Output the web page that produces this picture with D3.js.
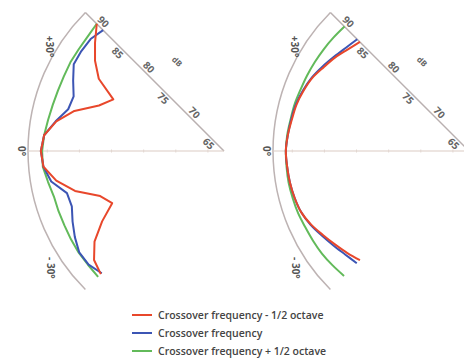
<!DOCTYPE html>
<html><head><meta charset="utf-8">
<script src="https://cdn.jsdelivr.net/npm/d3@7"></script>
<style>body{margin:0;background:#fff}svg{display:block}</style>
</head><body>
<script>
// ---- data ----
const angles = [45,40,35,30,25,20,15,10,5,0,-5,-10,-15,-20,-25,-30,-35,-40,-45];
const leftRed   = [90.5,88.7,87.0,85.0,81.5,83.2,86.6,89.0,90.6,91.0,90.7,89.0,86.5,83.0,81.7,84.4,87.1,88.9,89.6];
const leftBlue  = [89.1,89.6,89.6,89.5,88.4,87.4,87.6,89.1,90.6,91.0,90.7,89.8,87.8,87.7,88.5,89.3,90.0,90.0,89.4];
const leftGreen = [90.5,90.2,90.1,90.1,90.0,90.0,90.1,90.3,90.6,90.8,90.8,90.3,89.9,89.9,89.9,90.0,90.1,90.1,90.2];
const rightRed   = [86.5,87.1,87.9,88.6,89.4,89.9,90.3,90.5,90.8,91.0,90.9,90.8,90.6,90.3,89.6,88.7,87.9,87.2,86.5];
const rightBlue  = [87.1,87.5,88.1,88.8,89.5,90.0,90.4,90.6,90.8,91.0,90.9,90.8,90.6,90.3,89.7,88.9,88.2,87.6,87.2];
const rightGreen = [89.9,90.0,90.1,90.2,90.3,90.4,90.6,90.7,90.9,91.0,91.0,91.0,90.9,90.8,90.6,90.5,90.4,90.2,90.0];
const dbTicks = [90,85,80,75,70,65];
const angleLabels = ["+30°","0°","- 30°"];
const angleLabelAngles = [31,0,-34];
const seriesNames = ["Crossover frequency - 1/2 octave","Crossover frequency","Crossover frequency + 1/2 octave"];
const seriesColors = ["#e8472b","#3c55b4","#62ba5a"];

// ---- layout ----
const W = 464, H = 362;
const svg = d3.select("body").append("svg").attr("width", W).attr("height", H);
svg.append("rect").attr("width", W).attr("height", H).attr("fill", "#fff");
const R = 196;
const r = d3.scaleLinear().domain([62.5, 93]).range([0, R]);
const rad = d => d * Math.PI / 180;
const FONT = "Open Sans, DejaVu Sans, sans-serif";

function panel(cx, cy, series, curve) {
  const g = svg.append("g").attr("transform", `translate(${cx},${cy})`);
  const pt = (deg, rr) => [-rr * Math.cos(rad(deg)), -rr * Math.sin(rad(deg))];
  const p = d3.path();
  p.arc(0, 0, R, rad(135), rad(225));
  g.append("path").attr("d", p.toString()).attr("fill", "none").attr("stroke", "#bdb3b3").attr("stroke-width", 1.5);
  const e = pt(45, R);
  g.append("line").attr("x1", 0).attr("y1", 0).attr("x2", e[0]).attr("y2", e[1]).attr("stroke", "#b9b0b0").attr("stroke-width", 1.5);
  g.append("line").attr("x1", 0).attr("y1", 0).attr("x2", -R).attr("y2", 0).attr("stroke", "#dccbc3").attr("stroke-width", 1.2);
  dbTicks.forEach(t => {
    g.append("line").attr("x1", -r(t)).attr("x2", -r(t)).attr("y1", -1.5).attr("y2", 1.5).attr("stroke", "#e2d6d0").attr("stroke-width", 1);
  });
  dbTicks.forEach((t, i) => {
    const a = pt(45, r(t));
    const side = i % 2 === 0 ? 6 : -6;
    const x = a[0] + side * 0.7071, y = a[1] - side * 0.7071;
    g.append("text").attr("transform", `translate(${x},${y}) rotate(45)`)
      .attr("text-anchor", "middle").attr("dy", "0.35em")
      .attr("font-family", FONT).attr("font-weight", 700)
      .attr("font-size", 10).attr("fill", "#666").text(t);
  });
  {
    const a = pt(45, r(77.5));
    const x = a[0] + 30 * 0.7071, y = a[1] - 30 * 0.7071;
    g.append("text").attr("transform", `translate(${x},${y}) rotate(45)`)
      .attr("text-anchor", "middle").attr("dy", "0.35em")
      .attr("font-family", FONT).attr("font-weight", 700)
      .attr("font-size", 8).attr("fill", "#666").text("dB");
  }
  angleLabels.forEach((s, i) => {
    const deg = angleLabelAngles[i];
    const a = pt(deg, i === 2 ? 209 : 203);
    g.append("text").attr("transform", `translate(${a[0]},${a[1]}) rotate(90)`)
      .attr("text-anchor", "middle").attr("dy", "0.35em")
      .attr("font-family", FONT).attr("font-weight", 700)
      .attr("font-size", 10).attr("fill", "#555").text(s);
  });
  const line = d3.lineRadial()
    .angle((d, i) => rad(angles[i] - 90))
    .radius(d => r(d))
    .curve(curve);
  [2, 1, 0].forEach(k => {
    g.append("path").attr("d", line(series[k])).attr("fill", "none")
      .attr("stroke", seriesColors[k]).attr("stroke-width", 2).attr("stroke-linejoin", "round");
  });
}

panel(224, 151, [leftRed, leftBlue, leftGreen], d3.curveLinear);
panel(469, 151, [rightRed, rightBlue, rightGreen], d3.curveCatmullRom);

// legend
const leg = svg.append("g");
seriesNames.forEach((n, i) => {
  const y = 315 + i * 18;
  leg.append("line").attr("x1", 132).attr("x2", 152).attr("y1", y).attr("y2", y)
    .attr("stroke", seriesColors[i]).attr("stroke-width", 2);
  leg.append("text").attr("x", 158).attr("y", y).attr("dy", "0.35em")
    .attr("font-family", FONT).attr("font-weight", 600)
    .attr("font-size", 10.5).attr("fill", "#444").text(n);
});
</script>
</body></html>
